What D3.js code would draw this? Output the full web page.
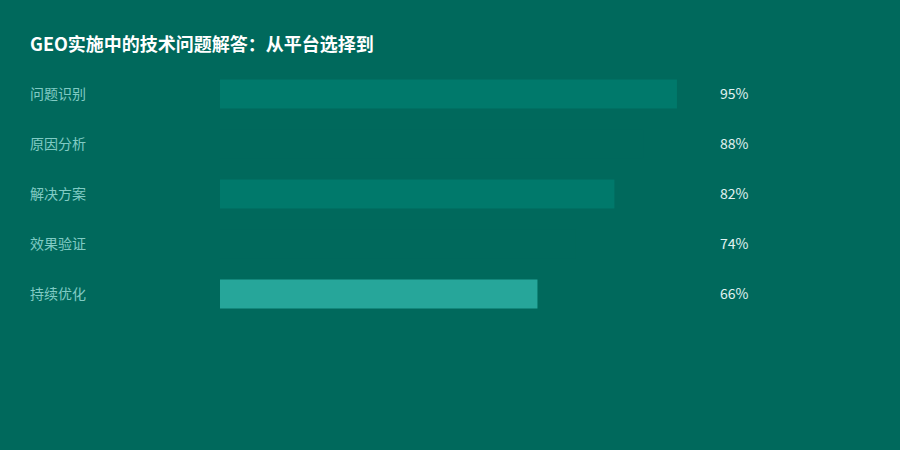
<!DOCTYPE html>
<html>
<head>
<meta charset="utf-8">
<title>GEO实施中的技术问题解答</title>
<script src="https://cdn.jsdelivr.net/npm/d3@7"></script>
<style>
  body { margin: 0; background: #00695c; }
  text { font-family: "Noto Sans CJK SC", "Noto Sans", sans-serif; }
</style>
</head>
<body>
<div id="chart"></div>
<script>
// data
var categories = ["问题识别", "原因分析", "解决方案", "效果验证", "持续优化"];
var values = [95, 88, 82, 74, 66];
var barColors = ["#00796b", "#00695c", "#00796b", "#00695c", "#26a69a"];

var width = 900, height = 450;

var svg = d3.select("#chart").append("svg")
  .attr("width", width)
  .attr("height", height);

svg.append("rect")
  .attr("width", width).attr("height", height)
  .attr("fill", "#00695c");

svg.append("text")
  .attr("x", 30).attr("y", 51)
  .attr("fill", "#ffffff")
  .style("font-size", "18px")
  .style("font-weight", "bold")
  .text("GEO实施中的技术问题解答：从平台选择到");

var x = d3.scaleLinear().domain([0, 100]).range([220, 701]);
var y = d3.scaleBand().domain(categories).range([69, 319]).paddingInner(0.42).paddingOuter(0.21);

var rows = svg.selectAll("g.row")
  .data(categories)
  .enter().append("g")
  .attr("class", "row");

rows.append("rect")
  .attr("x", x(0))
  .attr("y", function(d) { return y(d); })
  .attr("height", y.bandwidth())
  .attr("width", function(d, i) { return x(values[i]) - x(0); })
  .attr("fill", function(d, i) { return barColors[i]; });

rows.append("text")
  .attr("x", 30)
  .attr("y", function(d) { return y(d) + y.bandwidth() / 2; })
  .attr("dy", "0.35em")
  .attr("fill", "#80cbc4")
  .style("font-size", "14px")
  .text(function(d) { return d; });

rows.append("text")
  .attr("x", 720)
  .attr("y", function(d) { return y(d) + y.bandwidth() / 2; })
  .attr("dy", "0.35em")
  .attr("fill", "#e0f2f1")
  .style("font-size", "14px")
  .text(function(d, i) { return values[i] + "%"; });
</script>
</body>
</html>
